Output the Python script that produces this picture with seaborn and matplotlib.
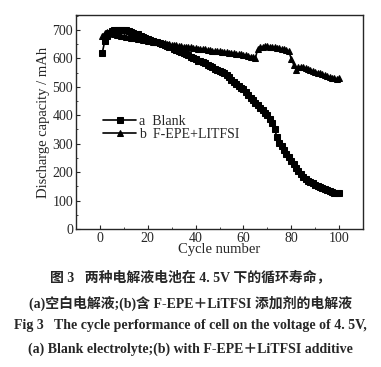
import numpy as np
import pandas as pd
import matplotlib
matplotlib.use("Agg")
import matplotlib.pyplot as plt
import seaborn as sns
from matplotlib.ticker import MultipleLocator

# Data (cycle 1..100)
cycles = list(range(1, 101))
blank = [620, 660, 680, 690, 695, 698, 700, 701, 701, 700,
         698, 696, 693, 690, 687, 684, 680, 676, 672, 668,
         665, 662, 659, 656, 653, 650, 647, 644, 641, 638,
         634, 630, 626, 622, 618, 614, 610, 605, 600, 596,
         592, 589, 586, 582, 578, 573, 568, 563, 559, 555,
         551, 547, 542, 535, 525, 518, 510, 503, 497, 491,
         482, 471, 462, 452, 443, 435, 426, 418, 409, 400,
         388, 373, 350, 325, 303, 290, 278, 265, 252, 240,
         228, 215, 203, 192, 182, 175, 169, 165, 160, 155,
         152, 148, 144, 140, 137, 134, 131, 128, 126, 125]
fepe = [680, 688, 692, 690, 688, 686, 683, 681, 679, 677,
        676, 675, 673, 672, 670, 668, 667, 665, 664, 662,
        661, 659, 658, 656, 655, 653, 652, 650, 649, 647,
        646, 645, 644, 643, 641, 640, 639, 638, 637, 635,
        634, 633, 632, 631, 630, 629, 627, 626, 625, 624,
        623, 622, 621, 620, 618, 617, 616, 615, 614, 612,
        610, 608, 606, 604, 602, 632, 638, 641, 642, 642,
        641, 640, 639, 637, 635, 633, 631, 628, 624, 598,
        578, 560, 568, 570, 568, 565, 562, 559, 556, 553,
        550, 547, 544, 541, 538, 535, 532, 529, 528, 531]
labels = ["a  Blank", "b  F-EPE+LITFSI"]

caption = ["图 3   两种电解液电池在 4. 5V 下的循环寿命，",
           "(a)空白电解液;(b)含 F-EPE＋LiTFSI 添加剂的电解液",
           "Fig 3   The cycle performance of cell on the voltage of 4. 5V,",
           "(a) Blank electrolyte;(b) with F-EPE＋LiTFSI additive"]

sns.set_style("ticks")
plt.rcParams['font.family'] = ['Liberation Serif', 'Noto Sans CJK SC']
plt.rcParams['xtick.direction'] = 'in'
plt.rcParams['ytick.direction'] = 'in'

df = pd.DataFrame({"cycle": cycles, "blank": blank, "fepe": fepe})

fig = plt.figure(figsize=(3.81, 3.67), dpi=100)
ax = fig.add_axes([0.1995, 0.376, 0.7533, 0.583])

sns.lineplot(data=df, x="cycle", y="blank", ax=ax, color="black", lw=1.2,
             marker="s", markersize=4.5, markeredgecolor="black", label=labels[0])
sns.lineplot(data=df, x="cycle", y="fepe", ax=ax, color="black", lw=1.2,
             marker="^", markersize=4.5, markeredgecolor="black", label=labels[1])

ax.set_xlim(-10, 110)
ax.set_ylim(0, 752)
ax.xaxis.set_major_locator(MultipleLocator(20))
ax.xaxis.set_minor_locator(MultipleLocator(10))
ax.yaxis.set_major_locator(MultipleLocator(100))
ax.yaxis.set_minor_locator(MultipleLocator(50))
ax.tick_params(which="major", length=3, width=0.8, labelsize=10, pad=2)
ax.tick_params(which="minor", length=1.5, width=0.6)
for s in ax.spines.values():
    s.set_linewidth(1.0)
ax.set_xlabel("Cycle number", fontsize=10.5, labelpad=-1)
ax.set_ylabel("Discharge capacity / mAh", fontsize=10.5, labelpad=2)

ax.legend(loc="upper left", bbox_to_anchor=(0.06, 0.58), frameon=False,
          fontsize=10, handlelength=2.4, handletextpad=0.2, labelspacing=0.0,
          borderpad=0.2)

ys = [277, 303, 326, 349]
for txt, y in zip(caption, ys):
    fig.text(0.5, 1 - y / 367, txt, ha="center", va="center",
             fontsize=10, fontweight="bold",
             family=['Liberation Serif', 'Noto Sans CJK SC'])

fig.savefig("out.png", dpi=100)
